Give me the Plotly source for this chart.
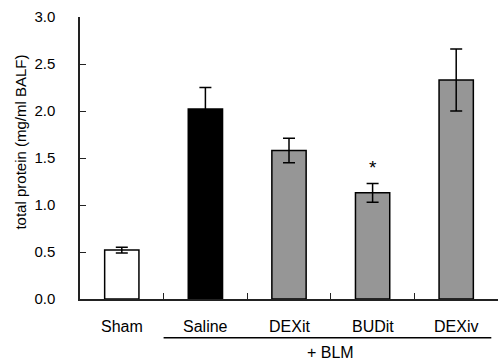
import plotly.graph_objects as go

categories = ["Sham", "Saline", "DEXit", "BUDit", "DEXiv"]
values = [0.52, 2.02, 1.58, 1.13, 2.33]
errors = [0.03, 0.23, 0.13, 0.10, 0.33]
bar_colors = ["#ffffff", "#000000", "#969696", "#969696", "#969696"]
y_ticks = [0.0, 0.5, 1.0, 1.5, 2.0, 2.5, 3.0]
y_tick_labels = ["0.0", "0.5", "1.0", "1.5", "2.0", "2.5", "3.0"]
group_label = "+ BLM"
y_title = "total protein (mg/ml BALF)"
star_category = 3
star_value = 1.45

xs = list(range(len(categories)))

fig = go.Figure()
fig.add_trace(go.Bar(
    x=xs, y=values, width=0.41,
    marker=dict(color=bar_colors, line=dict(color="#000000", width=1.5)),
    error_y=dict(type="data", array=errors, visible=True, color="#000000",
                 thickness=1.5, width=6),
    showlegend=False, hoverinfo="skip",
))

fig.update_layout(
    width=500, height=361,
    margin=dict(l=80, r=2, t=17, b=62),
    plot_bgcolor="white", paper_bgcolor="white",
    font=dict(family="Liberation Sans, Arial, sans-serif", size=15, color="#000000"),
    xaxis=dict(range=[-0.5, 4.5], showgrid=False, zeroline=False,
               showline=True, linecolor="#222222", linewidth=1.5,
               tickvals=[0.5, 1.5, 2.5, 3.5], ticktext=["", "", "", ""],
               ticks="inside", ticklen=6, tickwidth=1.2, tickcolor="#222222",
               automargin=False),
    yaxis=dict(range=[0, 3], showgrid=False, zeroline=False,
               showline=True, linecolor="#222222", linewidth=1.5,
               tickvals=y_ticks, ticktext=y_tick_labels,
               ticks="inside", ticklen=6, tickwidth=1.2, tickcolor="#222222",
               ticklabelstandoff=20, tickfont=dict(size=15), automargin=False),
)

for i, c in enumerate(categories):
    fig.add_annotation(x=i, xref="x", y=-0.099, yref="paper", text=c,
                       showarrow=False, font=dict(size=16), yanchor="middle")

fig.add_shape(type="line", xref="x", yref="paper", x0=0.5, x1=4.42,
              y0=-0.137, y1=-0.137, line=dict(color="#000000", width=1.5))
fig.add_annotation(x=2.5, xref="x", y=-0.19, yref="paper", text=group_label,
                   showarrow=False, font=dict(size=16), yanchor="middle")

fig.add_annotation(x=star_category, xref="x", y=star_value, yref="y", text="*",
                   showarrow=False, font=dict(size=19), yanchor="middle",
                   yshift=-5)

fig.add_annotation(x=-0.142, xref="paper", xanchor="center", y=0.557, yref="paper",
                   text=y_title, textangle=-90,
                   showarrow=False, font=dict(size=15), yanchor="middle")

fig.write_html("out.html", config={"displayModeBar": False},
               post_script="document.body.style.margin='0px';")
